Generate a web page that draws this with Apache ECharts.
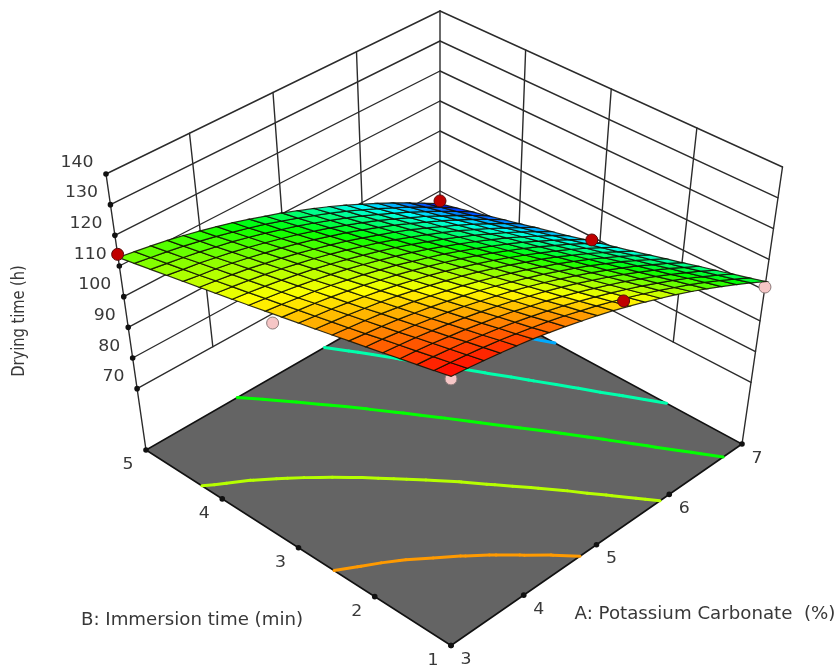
<!DOCTYPE html>
<html>
<head>
<meta charset="utf-8">
<script src="https://cdn.jsdelivr.net/npm/echarts@6/dist/echarts.min.js"></script>
<style>html,body{margin:0;padding:0;background:#fff}#main{width:838px;height:667px}</style>
</head>
<body>
<div id="main"></div>
<script>
// ---------- chart data ----------
const potassiumTicks = [3, 4, 5, 6, 7];
const immersionTicks = [1, 2, 3, 4, 5];
const dryingTicks = [70, 80, 90, 100, 110, 120, 130, 140];
const floorLevel = 50;
const topLevel = 140;
const axisTitleA = 'A: Potassium Carbonate  (%)';
const axisTitleB = 'B: Immersion time (min)';
const axisTitleZ = 'Drying time (h)';

// surface grid: one row per A value (3 to 7, step 0.2), one column per B value (1 to 5, step 0.2)
const surfaceA = [3,3.2,3.4,3.6,3.8,4,4.2,4.4,4.6,4.8,5,5.2,5.4,5.6,5.8,6,6.2,6.4,6.6,6.8,7];
const surfaceB = [1,1.2,1.4,1.6,1.8,2,2.2,2.4,2.6,2.8,3,3.2,3.4,3.6,3.8,4,4.2,4.4,4.6,4.8,5];
const surfaceTime = [
[136.8,135.6,134.4,133.2,132.0,130.8,129.6,128.4,127.2,126.0,124.8,123.6,122.4,121.2,120.0,118.8,117.6,116.4,115.2,114.0,112.8],
[136.2,135.0,133.8,132.6,131.4,130.2,128.9,127.7,126.5,125.3,124.1,122.9,121.7,120.5,119.3,118.1,116.8,115.6,114.4,113.2,112.0],
[135.5,134.3,133.1,131.9,130.7,129.4,128.2,127.0,125.8,124.6,123.4,122.1,120.9,119.7,118.5,117.3,116.1,114.9,113.6,112.4,111.2],
[134.7,133.5,132.3,131.0,129.8,128.6,127.4,126.2,124.9,123.7,122.5,121.3,120.0,118.8,117.6,116.4,115.2,113.9,112.7,111.5,110.3],
[133.8,132.6,131.3,130.1,128.9,127.6,126.4,125.2,124.0,122.7,121.5,120.3,119.0,117.8,116.6,115.3,114.1,112.9,111.6,110.4,109.2],
[132.8,131.5,130.3,129.0,127.8,126.6,125.3,124.1,122.9,121.6,120.4,119.1,117.9,116.7,115.4,114.2,112.9,111.7,110.5,109.2,108.0],
[131.6,130.3,129.1,127.9,126.6,125.4,124.1,122.9,121.6,120.4,119.1,117.9,116.7,115.4,114.2,112.9,111.7,110.4,109.2,107.9,106.7],
[130.3,129.1,127.8,126.6,125.3,124.0,122.8,121.5,120.3,119.0,117.8,116.5,115.3,114.0,112.8,111.5,110.3,109.0,107.8,106.5,105.3],
[128.9,127.7,126.4,125.1,123.9,122.6,121.4,120.1,118.8,117.6,116.3,115.1,113.8,112.5,111.3,110.0,108.8,107.5,106.2,105.0,103.7],
[127.4,126.1,124.9,123.6,122.3,121.1,119.8,118.5,117.3,116.0,114.7,113.4,112.2,110.9,109.6,108.4,107.1,105.8,104.6,103.3,102.0],
[125.8,124.5,123.2,121.9,120.7,119.4,118.1,116.8,115.6,114.3,113.0,111.7,110.5,109.2,107.9,106.6,105.4,104.1,102.8,101.5,100.3],
[124.0,122.7,121.4,120.1,118.9,117.6,116.3,115.0,113.7,112.4,111.2,109.9,108.6,107.3,106.0,104.7,103.5,102.2,100.9,99.6,98.3],
[122.1,120.8,119.5,118.2,117.0,115.7,114.4,113.1,111.8,110.5,109.2,107.9,106.6,105.3,104.0,102.8,101.5,100.2,98.9,97.6,96.3],
[120.1,118.8,117.5,116.2,114.9,113.6,112.3,111.0,109.7,108.4,107.1,105.8,104.5,103.2,101.9,100.7,99.4,98.1,96.8,95.5,94.2],
[118.0,116.7,115.4,114.1,112.8,111.5,110.2,108.9,107.6,106.2,104.9,103.6,102.3,101.0,99.7,98.4,97.1,95.8,94.5,93.2,91.9],
[115.8,114.4,113.1,111.8,110.5,109.2,107.9,106.6,105.3,103.9,102.6,101.3,100.0,98.7,97.4,96.0,94.7,93.4,92.1,90.8,89.5],
[113.4,112.1,110.8,109.4,108.1,106.8,105.5,104.2,102.8,101.5,100.2,98.9,97.6,96.2,94.9,93.6,92.3,91.0,89.6,88.3,87.0],
[110.9,109.6,108.3,106.9,105.6,104.3,103.0,101.6,100.3,99.0,97.6,96.3,95.0,93.7,92.3,91.0,89.7,88.3,87.0,85.7,84.4],
[108.3,107.0,105.6,104.3,103.0,101.6,100.3,99.0,97.6,96.3,95.0,93.6,92.3,91.0,89.6,88.3,87.0,85.6,84.3,83.0,81.6],
[105.6,104.2,102.9,101.6,100.2,98.9,97.5,96.2,94.8,93.5,92.2,90.8,89.5,88.1,86.8,85.5,84.1,82.8,81.4,80.1,78.7],
[102.8,101.4,100.1,98.7,97.4,96.0,94.7,93.3,91.9,90.6,89.3,87.9,86.5,85.2,83.9,82.5,81.2,79.8,78.5,77.1,75.8]
];
const contourLevels = [86, 96, 106.4, 117.2, 127.6];
// design points [A, B, time]
const pointsAboveSurface = [[3,5,113.8],[7,5,76.7],[7,3.1,89],[5.12,1,127]];
const pointsBelowSurface = [[3,3.12,121],[3,1,136],[7,1,101]];

// ---------- view: the box's eight corners on the plot plane; everything else is placed between them ----------
const viewFloor = {front:[451,645.5], right:[742,444], left:[146,450], back:[440,281]};
const viewTop   = {front:[451,366.5], right:[782.5,167], left:[106,174], back:[440,11]};
function project(a,b,z){
  const s=(a-3)/4,t=(b-1)/4,h=(z-floorLevel)/(topLevel-floorLevel);
  const on=(v,k)=>v.front[k]*(1-s)*(1-t)+v.right[k]*s*(1-t)+v.left[k]*(1-s)*t+v.back[k]*s*t;
  return [0,1].map(k=>on(viewFloor,k)*(1-h)+on(viewTop,k)*h);
}

// ---------- colour scale ----------
const flat=surfaceTime.flat(),zMin=Math.min(...flat),zMax=Math.max(...flat);
function rainbow(z){
  const t=Math.max(0,Math.min(1,(z-zMin)/(zMax-zMin)))*4,k=Math.min(3,Math.floor(t)),f=t-k;
  const stops=[[0,0,255],[0,255,255],[0,255,0],[255,255,0],[255,0,0]];
  const c=stops[k].map((s,i)=>Math.round(s+(stops[k+1][i]-s)*f));
  return 'rgb('+c.join(',')+')';
}

// ---------- derived geometry in data space ----------
const aLo=potassiumTicks[0],aHi=potassiumTicks[4],bLo=immersionTicks[0],bHi=immersionTicks[4];
const zLo=dryingTicks[0];
const wallLines=[];
dryingTicks.forEach(z=>{
  wallLines.push([[aLo,bHi,z],[aHi,bHi,z]]);
  wallLines.push([[aHi,bHi,z],[aHi,bLo,z]]);
});
potassiumTicks.slice(1,4).forEach(a=>wallLines.push([[a,bHi,zLo],[a,bHi,topLevel]]));
immersionTicks.slice(1,4).forEach(b=>wallLines.push([[aHi,b,zLo],[aHi,b,topLevel]]));
wallLines.push([[aLo,bHi,floorLevel],[aLo,bHi,topLevel]]);
wallLines.push([[aHi,bLo,floorLevel],[aHi,bLo,topLevel]]);
wallLines.push([[aHi,bHi,floorLevel],[aHi,bHi,topLevel]]);

const cells=[];
for(let i=0;i<surfaceA.length-1;i++)for(let j=0;j<surfaceB.length-1;j++)cells.push([i,j]);

const contourSegments=[];
contourLevels.forEach(L=>{
  cells.forEach(([i,j])=>{
    const c=[[surfaceA[i],surfaceB[j],surfaceTime[i][j]],[surfaceA[i+1],surfaceB[j],surfaceTime[i+1][j]],
             [surfaceA[i+1],surfaceB[j+1],surfaceTime[i+1][j+1]],[surfaceA[i],surfaceB[j+1],surfaceTime[i][j+1]]];
    const hits=[];
    for(let k=0;k<4;k++){
      const p=c[k],q=c[(k+1)%4];
      if((p[2]>L)!==(q[2]>L)){const t=(L-p[2])/(q[2]-p[2]);hits.push([p[0]+(q[0]-p[0])*t,p[1]+(q[1]-p[1])*t]);}
    }
    if(hits.length>=2)contourSegments.push({L,p:hits[0],q:hits[1]});
  });
});

const tickDots=[];
dryingTicks.forEach(z=>tickDots.push([aLo,bHi,z]));
potassiumTicks.forEach(a=>tickDots.push([a,bLo,floorLevel]));
immersionTicks.forEach(b=>tickDots.push([aLo,b,floorLevel]));
tickDots.push([aHi,bHi,floorLevel]);

const textColor='#383838',fontName='"DejaVu Sans"';
const tickTexts=[];
dryingTicks.forEach(z=>tickTexts.push({t:String(z),w:[aLo,bHi,z],dx:-12.5,dy:-11.5,al:'right'}));
potassiumTicks.forEach(a=>tickTexts.push({t:String(a),w:[a,bLo,floorLevel],dx:15,dy:14.5,al:'center'}));
immersionTicks.forEach(b=>tickTexts.push({t:String(b),w:[aLo,b,floorLevel],dx:-18,dy:15,al:'center'}));

// ---------- series helper ----------
function layer(name,items,draw,z){
  return {name,type:'custom',coordinateSystem:'cartesian2d',silent:true,animation:false,clip:false,z,progressive:0,
    data:items.map((_,i)=>[i]),encode:{x:0,y:0},
    renderItem:(p,api)=>{const toPx=(a,b,zz)=>api.coord(project(a,b,zz));return draw(items[p.dataIndex],toPx,api);}};
}
const lineEl=(p,q,stroke,w)=>({type:'line',shape:{x1:p[0],y1:p[1],x2:q[0],y2:q[1]},style:{stroke,lineWidth:w,lineCap:'round'}});
const pointStyle=(fill,stroke)=>(pt,toPx)=>{const c=toPx(pt[0],pt[1],pt[2]);
  return {type:'circle',shape:{cx:c[0],cy:c[1],r:6},style:{fill,stroke,lineWidth:1}};};

const option={
  backgroundColor:'#ffffff',
  animation:false,
  grid:{left:0,right:0,top:0,bottom:0},
  xAxis:{type:'value',min:0,max:838,show:false},
  yAxis:{type:'value',min:0,max:667,inverse:true,show:false},
  series:[
    layer('walls',wallLines,(s,px)=>lineEl(px(...s[0]),px(...s[1]),'#2b2b2b',1.4),1),
    layer('floor',[[aLo,aHi,bLo,bHi]],(r,px)=>({type:'polygon',
      shape:{points:[px(r[0],r[2],floorLevel),px(r[1],r[2],floorLevel),px(r[1],r[3],floorLevel),px(r[0],r[3],floorLevel)]},
      style:{fill:'#646464',stroke:'#111',lineWidth:1.6}}),2),
    layer('contours',contourSegments,(s,px)=>lineEl(px(s.p[0],s.p[1],floorLevel),px(s.q[0],s.q[1],floorLevel),rainbow(s.L),3),3),
    layer('tick dots',tickDots,(t,px)=>{const c=px(...t);return {type:'circle',shape:{cx:c[0],cy:c[1],r:2.8},style:{fill:'#111'}};},4),
    layer('points below surface',pointsBelowSurface,pointStyle('#f6c6c6','#8d7b7b'),5),
    layer('surface',cells,([i,j],px)=>{
      const v=(surfaceTime[i][j]+surfaceTime[i+1][j]+surfaceTime[i+1][j+1]+surfaceTime[i][j+1])/4;
      return {type:'polygon',shape:{points:[px(surfaceA[i],surfaceB[j],surfaceTime[i][j]),px(surfaceA[i+1],surfaceB[j],surfaceTime[i+1][j]),
        px(surfaceA[i+1],surfaceB[j+1],surfaceTime[i+1][j+1]),px(surfaceA[i],surfaceB[j+1],surfaceTime[i][j+1])]},
        style:{fill:rainbow(v),stroke:'rgba(15,15,0,0.85)',lineWidth:1.2}};
    },6),
    layer('points above surface',pointsAboveSurface,pointStyle('#c00000','#5a0a0a'),7),
    layer('tick labels',tickTexts,(t,px)=>{const c=px(...t.w);return {type:'text',x:c[0]+t.dx,y:c[1]+t.dy,scaleX:1.08,
      style:{text:t.t,fill:textColor,fontSize:16,fontFamily:fontName,align:t.al,verticalAlign:'middle'}};},8),
    layer('axis titles',[
      {t:axisTitleA,at:[705,615],rot:0,size:17,sx:1.07,font:fontName},
      {t:axisTitleB,at:[192,621],rot:0,size:17,sx:1.07,font:fontName},
      {t:axisTitleZ,at:[20,321],rot:Math.PI/2,size:17,sx:0.86,font:fontName}
    ],(t,px,api)=>{const c=api.coord(t.at);return {type:'text',x:c[0],y:c[1],rotation:t.rot,scaleX:t.sx,
      style:{text:t.t,fill:textColor,fontSize:t.size,fontFamily:t.font,align:'center',verticalAlign:'middle'}};},8)
  ]
};
const chart=echarts.init(document.getElementById('main'),null,{renderer:'canvas'});
chart.setOption(option);
</script>
</body>
</html>
